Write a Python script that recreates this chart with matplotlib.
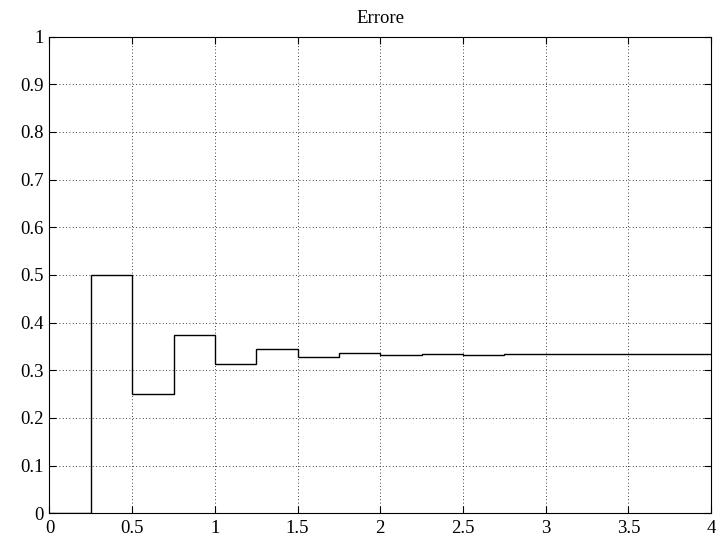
import matplotlib
matplotlib.use("Agg")
import matplotlib.pyplot as plt
import numpy as np

# Data
edges = [0, 0.25, 0.5, 0.75, 1.0, 1.25, 1.5, 1.75, 2.0, 2.25, 2.5, 2.75, 3.0, 3.25, 3.5, 3.75, 4.0]
errore = [0.0, 0.5, 0.25, 0.375, 0.3125, 0.344, 0.328, 0.336, 0.332, 0.334, 0.333,
          0.3335, 0.3332, 0.3334, 0.3333, 0.3333]
xticks = [0, 0.5, 1, 1.5, 2, 2.5, 3, 3.5, 4]
xlabels = ["0", "0.5", "1", "1.5", "2", "2.5", "3", "3.5", "4"]
yticks = [0, 0.1, 0.2, 0.3, 0.4, 0.5, 0.6, 0.7, 0.8, 0.9, 1]
ylabels = ["0", "0.1", "0.2", "0.3", "0.4", "0.5", "0.6", "0.7", "0.8", "0.9", "1"]

plt.rcParams['font.family'] = ['Liberation Serif', 'DejaVu Serif']

fig = plt.figure(figsize=(7.19, 5.39), dpi=100)
ax = fig.add_axes([0.0688, 0.0477, 0.9201, 0.8843])
ax.stairs(errore, edges, color='black', linewidth=1.0, baseline=None)
ax.set_xlim(0, 4)
ax.set_ylim(0, 1)
ax.set_xticks(xticks)
ax.set_xticklabels(xlabels)
ax.set_yticks(yticks)
ax.set_yticklabels(ylabels)
ax.tick_params(direction='in', top=True, right=True, labelsize=13.5, length=5, width=0.8)
ax.tick_params(axis='y', pad=4)
ax.tick_params(axis='x', pad=5)
ax.grid(True, color='black', linestyle=(0, (1, 3)), linewidth=0.6)
for s in ax.spines.values():
    s.set_linewidth(0.8)
ax.set_title("Errore", fontsize=13.5, pad=10)
fig.savefig("out.png", dpi=100)
